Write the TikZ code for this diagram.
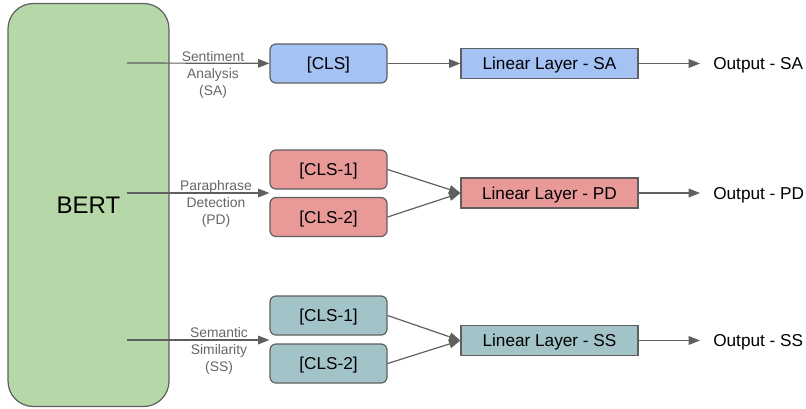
\documentclass[tikz,border=0pt]{standalone}
\usepackage{fontspec}
\setmainfont{Liberation Sans}
\usetikzlibrary{arrows.meta,positioning,calc}
\definecolor{bertgreen}{HTML}{B6D7A8}
\definecolor{sablue}{HTML}{A4C2F4}
\definecolor{pdred}{HTML}{EA9999}
\definecolor{ssteal}{HTML}{A2C4C9}
\definecolor{edgegray}{HTML}{5F5F5F}
\definecolor{labelgray}{HTML}{666666}
\tikzset{
	bertbox/.style={rectangle, draw=edgegray, rounded corners=19pt, fill=bertgreen, line width=0.9pt,
		minimum width=120.75pt, minimum height=302.25pt, font=\fontsize{18}{21}\selectfont},
	clsbox/.style={rectangle, draw=edgegray, rounded corners=4.5pt, line width=0.9pt, text depth=0pt,
		minimum width=87.75pt, minimum height=29.25pt, font=\fontsize{12.9}{15}\selectfont, inner sep=2pt},
	linbox/.style={rectangle, draw=edgegray, line width=0.9pt, text depth=0pt,
		minimum width=132.75pt, minimum height=22.5pt, font=\fontsize{12.9}{15}\selectfont, inner sep=2pt},
	outtxt/.style={anchor=west, inner xsep=9.75pt, inner ysep=0pt, text depth=0pt, font=\fontsize{12.9}{15}\selectfont},
	tasklbl/.style={align=center, text=labelgray, font=\fontsize{10.4}{12.75}\selectfont, inner sep=0pt},
	taskarr/.style={-{Triangle[length=8.5pt,width=6.5pt]}, color=edgegray, line width=0.9pt}
}

\begin{document}
\begin{tikzpicture}[x=0.75pt, y=-0.75pt]
			\useasboundingbox (0,0) rectangle (806,408);
			\node[bertbox] (bert) at (88.5,205) {BERT};
			% sentiment analysis
			\coordinate (sa-src) at (127,63);
			\node[clsbox, fill=sablue] (sa-cls) at (328.5,63.5) {[CLS]};
			\node[linbox, fill=sablue] (sa-lin) at (549.5,63.5) {Linear Layer - SA};
			\node[outtxt] (sa-out) at (700,63.5) {Output - SA};
			\node[tasklbl] (sa-lbl) at (213,75) {Sentiment\\Analysis\\(SA)};
			\draw[taskarr] (sa-src) -- (sa-cls);
			\draw[taskarr] (sa-cls) -- (sa-lin);
			\draw[taskarr] (sa-lin) -- (sa-out);
			% paraphrase detection
			\coordinate (pd-src) at (127,193);
			\node[clsbox, fill=pdred] (pd-cls1) at (328.5,169.5) {[CLS-1]};
			\node[clsbox, fill=pdred] (pd-cls2) at (328.5,217) {[CLS-2]};
			\node[linbox, fill=pdred] (pd-lin) at (549.5,193) {Linear Layer - PD};
			\node[outtxt] (pd-out) at (700,193) {Output - PD};
			\node[tasklbl] (pd-lbl) at (216,204) {Paraphrase\\Detection\\(PD)};
			\draw[taskarr] (pd-src) -- (pd-src -| pd-cls1.west);
			\draw[taskarr] (pd-cls1.east) -- (pd-lin.west);
			\draw[taskarr] (pd-cls2.east) -- (pd-lin.west);
			\draw[taskarr] (pd-lin) -- (pd-out);
			% semantic similarity
			\coordinate (ss-src) at (127,340);
			\node[clsbox, fill=ssteal] (ss-cls1) at (328.5,315.5) {[CLS-1]};
			\node[clsbox, fill=ssteal] (ss-cls2) at (328.5,363.5) {[CLS-2]};
			\node[linbox, fill=ssteal] (ss-lin) at (549.5,340.5) {Linear Layer - SS};
			\node[outtxt] (ss-out) at (700,340.5) {Output - SS};
			\node[tasklbl] (ss-lbl) at (219,351) {Semantic\\Similarity\\(SS)};
			\draw[taskarr] (ss-src) -- (ss-src -| ss-cls1.west);
			\draw[taskarr] (ss-cls1.east) -- (ss-lin.west);
			\draw[taskarr] (ss-cls2.east) -- (ss-lin.west);
			\draw[taskarr] (ss-lin) -- (ss-out);
		\end{tikzpicture}
\end{document}
